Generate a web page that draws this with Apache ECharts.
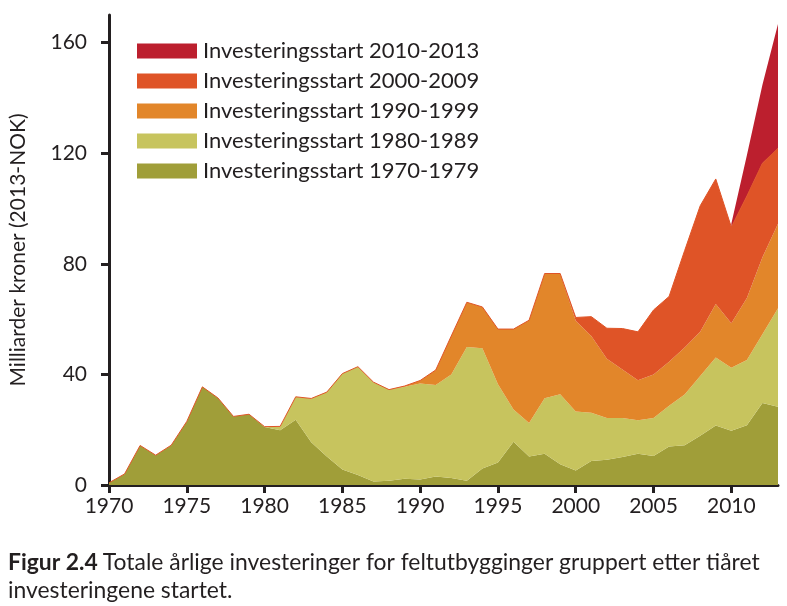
<!DOCTYPE html>
<html>
<head>
<meta charset="utf-8">
<script src="https://cdn.jsdelivr.net/npm/echarts@6/dist/echarts.min.js"></script>
<style>html,body{margin:0;padding:0;background:#fff;}#c{width:787px;height:606px;}</style>
</head>
<body>
<div id="c"></div>
<script>
const years = [];
for (let y = 1970; y <= 2013; y++) years.push(String(y));

const names = [
  'Investeringsstart 1970-1979',
  'Investeringsstart 1980-1989',
  'Investeringsstart 1990-1999',
  'Investeringsstart 2000-2009',
  'Investeringsstart 2010-2013'
];

const s1970 = [0.8,4,14.3,10.8,14.4,23,35.5,31.5,24.8,25.6,
  21,19.8,23.6,15.5,10.3,5.6,3.6,1.3,1.5,2.3,
  2.0,3.1,2.5,1.5,6.0,8.1,15.6,10.3,11.3,7.5,
  5.2,8.7,9.1,10.1,11.3,10.5,13.9,14.4,17.8,21.5,
  19.6,21.6,29.7,28.3];
const s1980 = [0,0,0,0,0,0,0,0,0,0,
  0.1,1.4,8.3,15.8,23.3,34.7,39.2,35.9,33.0,33.2,
  34.7,33.1,37.5,48.4,43.5,28.3,11.7,12.1,20.1,25.3,
  21.4,17.4,15.1,14.1,12.1,13.7,14.8,18.3,21.6,24.6,
  22.8,23.6,24.8,35.6];
const s1990 = [0,0,0,0,0,0,0,0,0,0,
  0,0,0,0,0,0,0,0,0,0.3,
  1.1,5.4,13.9,16.2,14.9,20,29.1,37.2,45.1,43.7,
  32.8,27.8,21.5,17.6,14.5,15.8,15.9,17,16,19.4,
  16.1,22.4,27.9,30.6];
const s2000 = [0,0,0,0,0,0,0,0,0,0,
  0,0,0,0,0,0,0,0,0,0,
  0,0,0,0,0,0,0,0,0,0,
  1.2,7,11,14.8,17.5,23.3,23.6,35.1,45.6,45.2,
  34.8,36.9,34,27.3];
const s2010 = [null,null,null,null,null,null,null,null,null,null,
  null,null,null,null,null,null,null,null,null,null,
  null,null,null,null,null,null,null,null,null,null,
  null,null,null,null,null,null,null,null,null,null,
  1.2,14.8,28.4,44.9];

const yTicks = [0, 40, 80, 120, 160];
const seriesData = [s1970, s1980, s1990, s2000, s2010];
const colors = ['#A09E39', '#C7C45E', '#E2862A', '#DF5427', '#BC1F2E'];

const font = 'Lato';
const ink = '#231F20';

const chart = echarts.init(document.getElementById('c'), null, {renderer: 'canvas'});
chart.setOption({
  animation: false,
  color: colors,
  title: {
    left: 8,
    top: 549,
    padding: 0,
    text: '{b|Figur 2.4} {n|Totale årlige investeringer for feltutbygginger gruppert etter tiåret}\n{n|investeringene startet.}',
    textStyle: {
      fontWeight: 'normal',
      rich: {
        b: {fontFamily: font, fontSize: 22.9, fontWeight: 'bold', color: ink, lineHeight: 28},
        n: {fontFamily: font, fontSize: 22.9, fontWeight: 'normal', color: ink, lineHeight: 28}
      }
    }
  },
  legend: {
    orient: 'vertical',
    left: 137,
    top: 40,
    padding: 0,
    itemWidth: 60,
    itemHeight: 15,
    itemGap: 8,
    icon: 'rect',
    data: names.slice().reverse(),
    textStyle: {fontFamily: font, fontSize: 22, color: ink, padding: [0, 0, 0, 1]}
  },
  grid: {left: 109, right: 9, top: 15, bottom: 121, containLabel: false},
  xAxis: {
    type: 'category',
    data: years,
    boundaryGap: false,
    axisLine: {lineStyle: {color: ink, width: 3}},
    axisTick: {show: true, interval: 4, length: 8, lineStyle: {color: ink, width: 3}},
    axisLabel: {interval: 4, margin: 11, fontFamily: font, fontSize: 21, color: ink},
    splitLine: {show: false}
  },
  yAxis: {
    type: 'value',
    min: 0,
    max: 170,
    name: 'Milliarder kroner (2013-NOK)',
    nameLocation: 'middle',
    nameRotate: 90,
    nameGap: 80,
    nameTextStyle: {fontFamily: font, fontSize: 21, color: ink},
    axisLine: {show: true, lineStyle: {color: ink, width: 3}},
    axisTick: {show: true, length: 8, customValues: yTicks, lineStyle: {color: ink, width: 3}},
    axisLabel: {customValues: yTicks, margin: 22, fontFamily: font, fontSize: 21, color: ink},
    splitLine: {show: false}
  },
  series: names.map((n, i) => ({
    name: n,
    type: 'line',
    stack: 'total',
    data: seriesData[i],
    showSymbol: false,
    symbol: 'none',
    areaStyle: {color: colors[i], opacity: 1},
    lineStyle: {width: i === 3 ? 1 : 0, color: colors[i]},
    itemStyle: {color: colors[i]},
    emphasis: {disabled: true}
  }))
});
</script>
</body>
</html>
